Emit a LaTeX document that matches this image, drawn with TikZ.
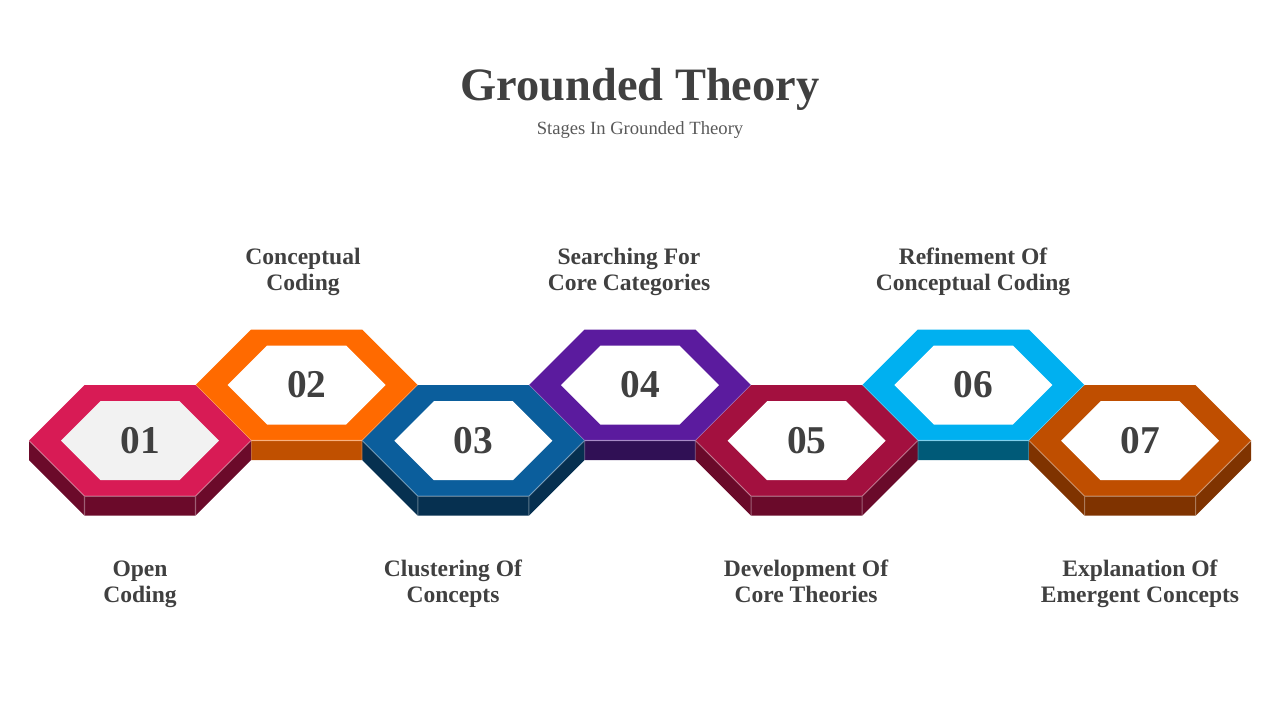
\documentclass[tikz,border=0pt]{standalone}
\usepackage{fontspec}
\setmainfont{Liberation Serif}
\usepackage{xcolor}
\definecolor{textgray}{RGB}{64,64,64}
\definecolor{subgray}{RGB}{89,89,89}
\definecolor{innergray}{RGB}{242,242,242}
\definecolor{ringA}{RGB}{216,27,85}
\definecolor{sideA}{RGB}{107,10,42}
\definecolor{ringB}{RGB}{255,106,0}
\definecolor{sideB}{RGB}{192,80,0}
\definecolor{ringC}{RGB}{11,94,156}
\definecolor{sideC}{RGB}{6,48,80}
\definecolor{ringD}{RGB}{91,27,158}
\definecolor{sideD}{RGB}{48,16,85}
\definecolor{ringE}{RGB}{163,16,63}
\definecolor{sideE}{RGB}{106,10,42}
\definecolor{ringF}{RGB}{0,176,240}
\definecolor{sideF}{RGB}{0,90,120}
\definecolor{ringG}{RGB}{191,78,0}
\definecolor{sideG}{RGB}{127,51,0}

\begin{document}
\begin{tikzpicture}[x=0.01cm, y=-0.01cm,
  numtext/.style={font=\fontsize{11.2}{13}\selectfont\bfseries, text=textgray},
  stagetext/.style={font=\fontsize{6.7}{7.4}\selectfont\bfseries, text=textgray, align=center},
  edgeline/.style={white, opacity=0.35, line width=0.3pt}]
  \useasboundingbox (0,0) rectangle (1280,720);
  % heading
  \node[font=\fontsize{13.2}{15}\selectfont\bfseries, text=textgray, anchor=base] (title) at (640,100) {Grounded Theory};
  \node[font=\fontsize{5.3}{6}\selectfont, text=subgray, anchor=base] (subtitle) at (640,134) {Stages In Grounded Theory};
  % hexagons: upper row first, the lower row covers their slanted sides
  \foreach \n/\cx/\cy/\ring/\side/\fillc in {02/306.7/385/ringB/sideB/white,
      04/640/385/ringD/sideD/white, 06/973.3/385/ringF/sideF/white,
      01/140/440.7/ringA/sideA/innergray, 03/473.3/440.7/ringC/sideC/white,
      05/806.7/440.7/ringE/sideE/white, 07/1140/440.7/ringG/sideG/white}{
    \begin{scope}[shift={(\cx,\cy)}]
      \fill[\side] (-111,0) -- (-55.5,55.5) -- (55.5,55.5) -- (111,0) -- (111,19.5)
        -- (55.5,75) -- (-55.5,75) -- (-111,19.5) -- cycle;
      \fill[\ring] (-111,0) -- (-55.5,-55.5) -- (55.5,-55.5) -- (111,0)
        -- (55.5,55.5) -- (-55.5,55.5) -- cycle;
      \fill[\fillc] (-79,0) -- (-39.5,-39.5) -- (39.5,-39.5) -- (79,0)
        -- (39.5,39.5) -- (-39.5,39.5) -- cycle;
      \draw[edgeline] (-111,0) -- (-55.5,55.5) -- (55.5,55.5) -- (111,0)
        (-55.5,55.5) -- (-55.5,75) (55.5,55.5) -- (55.5,75);
    \end{scope}
    \node[numtext] (num\n) at (\cx,\cy) {\n};
  }
  % stage names
  \node[stagetext] (lab02) at (303,272) {\strut Conceptual\\\strut Coding};
  \node[stagetext] (lab04) at (629,272) {\strut Searching For\\\strut Core Categories};
  \node[stagetext] (lab06) at (973,272) {\strut Refinement Of\\\strut Conceptual Coding};
  \node[stagetext] (lab01) at (140,584) {\strut Open\\\strut Coding};
  \node[stagetext] (lab03) at (453,584) {\strut Clustering Of\\\strut Concepts};
  \node[stagetext] (lab05) at (806,584) {\strut Development Of\\\strut Core Theories};
  \node[stagetext] (lab07) at (1140,584) {\strut Explanation Of\\\strut Emergent Concepts};
\end{tikzpicture}
\end{document}
